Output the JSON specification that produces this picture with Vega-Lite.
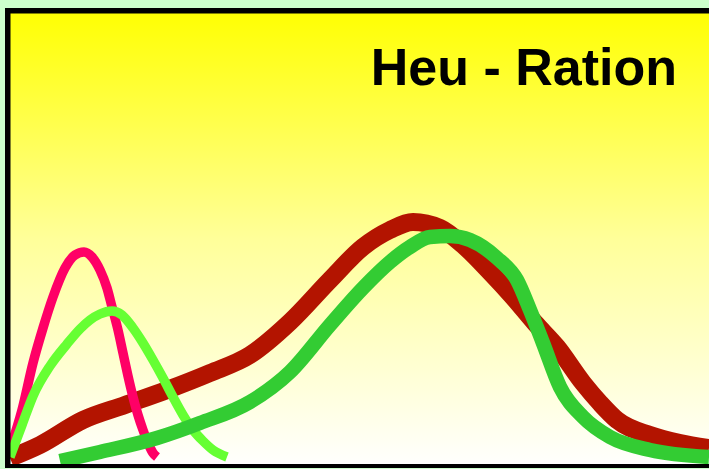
{
  "$schema": "https://vega.github.io/schema/vega-lite/v6.json",
  "width": 704,
  "height": 460,
  "autosize": {"type": "none"},
  "padding": {"left": 5, "top": 8, "right": 0, "bottom": 1},
  "background": "#CCFFCC",
  "config": {"view": {"stroke": null}},
  "datasets": {
    "curves": [
      {"s": "red", "x": 5, "y": 10}, {"s": "red", "x": 35, "y": 23}, {"s": "red", "x": 78, "y": 48}, {"s": "red", "x": 120, "y": 63},
      {"s": "red", "x": 162, "y": 78}, {"s": "red", "x": 205, "y": 95}, {"s": "red", "x": 245, "y": 113}, {"s": "red", "x": 285, "y": 146},
      {"s": "red", "x": 325, "y": 188}, {"s": "red", "x": 358, "y": 221}, {"s": "red", "x": 385, "y": 238}, {"s": "red", "x": 408, "y": 246},
      {"s": "red", "x": 435, "y": 240}, {"s": "red", "x": 458, "y": 223}, {"s": "red", "x": 485, "y": 196}, {"s": "red", "x": 508, "y": 171},
      {"s": "red", "x": 530, "y": 145}, {"s": "red", "x": 552, "y": 121}, {"s": "red", "x": 578, "y": 85}, {"s": "red", "x": 595, "y": 65},
      {"s": "red", "x": 612, "y": 48}, {"s": "red", "x": 645, "y": 33}, {"s": "red", "x": 675, "y": 25}, {"s": "red", "x": 704, "y": 20},

      {"s": "pink", "x": 3, "y": 13}, {"s": "pink", "x": 17, "y": 58}, {"s": "pink", "x": 28, "y": 105}, {"s": "pink", "x": 38, "y": 140},
      {"s": "pink", "x": 48, "y": 171}, {"s": "pink", "x": 60, "y": 200}, {"s": "pink", "x": 70, "y": 213}, {"s": "pink", "x": 79, "y": 216},
      {"s": "pink", "x": 87, "y": 211}, {"s": "pink", "x": 95, "y": 198}, {"s": "pink", "x": 102, "y": 180}, {"s": "pink", "x": 107, "y": 161},
      {"s": "pink", "x": 113, "y": 138}, {"s": "pink", "x": 118, "y": 115}, {"s": "pink", "x": 123, "y": 92}, {"s": "pink", "x": 128, "y": 71},
      {"s": "pink", "x": 133, "y": 53}, {"s": "pink", "x": 138, "y": 38}, {"s": "pink", "x": 143, "y": 25}, {"s": "pink", "x": 148, "y": 15},
      {"s": "pink", "x": 152, "y": 11},

      {"s": "lime", "x": 5, "y": 11}, {"s": "lime", "x": 17, "y": 43}, {"s": "lime", "x": 28, "y": 72}, {"s": "lime", "x": 45, "y": 102},
      {"s": "lime", "x": 62, "y": 124}, {"s": "lime", "x": 75, "y": 139}, {"s": "lime", "x": 85, "y": 148}, {"s": "lime", "x": 95, "y": 154},
      {"s": "lime", "x": 107, "y": 157}, {"s": "lime", "x": 117, "y": 153}, {"s": "lime", "x": 128, "y": 140}, {"s": "lime", "x": 138, "y": 125},
      {"s": "lime", "x": 148, "y": 108}, {"s": "lime", "x": 158, "y": 90}, {"s": "lime", "x": 168, "y": 71}, {"s": "lime", "x": 178, "y": 53},
      {"s": "lime", "x": 188, "y": 38}, {"s": "lime", "x": 198, "y": 27}, {"s": "lime", "x": 208, "y": 18}, {"s": "lime", "x": 222, "y": 11},

      {"s": "green", "x": 55, "y": 7}, {"s": "green", "x": 95, "y": 16}, {"s": "green", "x": 152, "y": 30}, {"s": "green", "x": 195, "y": 45},
      {"s": "green", "x": 245, "y": 66}, {"s": "green", "x": 285, "y": 96}, {"s": "green", "x": 325, "y": 143}, {"s": "green", "x": 358, "y": 180},
      {"s": "green", "x": 385, "y": 206}, {"s": "green", "x": 405, "y": 221}, {"s": "green", "x": 425, "y": 231}, {"s": "green", "x": 445, "y": 232},
      {"s": "green", "x": 465, "y": 228}, {"s": "green", "x": 492, "y": 210}, {"s": "green", "x": 512, "y": 188}, {"s": "green", "x": 525, "y": 158},
      {"s": "green", "x": 538, "y": 125}, {"s": "green", "x": 555, "y": 81}, {"s": "green", "x": 578, "y": 51}, {"s": "green", "x": 605, "y": 31},
      {"s": "green", "x": 645, "y": 18}, {"s": "green", "x": 704, "y": 11}
    ],
    "title": [{"label": "Heu - Ration", "x": 672, "y": 383}]
  },
  "layer": [
    {
      "data": {"values": [{"x0": 0, "x1": 704, "y0": 0, "y1": 460}]},
      "mark": {"type": "rect", "fill": {"gradient": "linear", "x1": 0, "y1": 0, "x2": 0, "y2": 1, "stops": [{"offset": 0, "color": "#FFFF00"}, {"offset": 0.5, "color": "#FFFF99"}, {"offset": 1, "color": "#FFFFFF"}]}},
      "encoding": {
        "x": {"field": "x0", "type": "quantitative", "scale": {"domain": [0, 704], "nice": false, "zero": false}, "axis": null},
        "x2": {"field": "x1"},
        "y": {"field": "y0", "type": "quantitative", "scale": {"domain": [0, 460], "nice": false, "zero": false}, "axis": null},
        "y2": {"field": "y1"}
      }
    },
    {
      "data": {"name": "curves"},
      "transform": [{"filter": "datum.s === 'red'"}],
      "mark": {"type": "line", "color": "#B31400", "strokeWidth": 18, "interpolate": "monotone", "strokeCap": "butt", "strokeJoin": "round", "clip": true},
      "encoding": {
        "x": {"field": "x", "type": "quantitative", "scale": {"domain": [0, 704], "nice": false, "zero": false}, "axis": null},
        "y": {"field": "y", "type": "quantitative", "scale": {"domain": [0, 460], "nice": false, "zero": false}, "axis": null}
      }
    },
    {
      "data": {"name": "curves"},
      "transform": [{"filter": "datum.s === 'pink'"}],
      "mark": {"type": "line", "color": "#FF0066", "strokeWidth": 9.5, "interpolate": "monotone", "strokeCap": "butt", "strokeJoin": "round", "clip": true},
      "encoding": {
        "x": {"field": "x", "type": "quantitative", "scale": {"domain": [0, 704], "nice": false, "zero": false}, "axis": null},
        "y": {"field": "y", "type": "quantitative", "scale": {"domain": [0, 460], "nice": false, "zero": false}, "axis": null}
      }
    },
    {
      "data": {"name": "curves"},
      "transform": [{"filter": "datum.s === 'lime'"}],
      "mark": {"type": "line", "color": "#66FF33", "strokeWidth": 9.5, "interpolate": "monotone", "strokeCap": "butt", "strokeJoin": "round", "clip": true},
      "encoding": {
        "x": {"field": "x", "type": "quantitative", "scale": {"domain": [0, 704], "nice": false, "zero": false}, "axis": null},
        "y": {"field": "y", "type": "quantitative", "scale": {"domain": [0, 460], "nice": false, "zero": false}, "axis": null}
      }
    },
    {
      "data": {"name": "curves"},
      "transform": [{"filter": "datum.s === 'green'"}],
      "mark": {"type": "line", "color": "#33CC33", "strokeWidth": 14.5, "interpolate": "monotone", "strokeCap": "butt", "strokeJoin": "round", "clip": true},
      "encoding": {
        "x": {"field": "x", "type": "quantitative", "scale": {"domain": [0, 704], "nice": false, "zero": false}, "axis": null},
        "y": {"field": "y", "type": "quantitative", "scale": {"domain": [0, 460], "nice": false, "zero": false}, "axis": null}
      }
    },
    {
      "data": {"values": [{"x0": 0, "x1": 730, "y0": -1.5, "y1": 460}]},
      "mark": {"type": "rect", "fill": null, "fillOpacity": 0, "stroke": "#000000", "strokeWidth": 11, "clip": true},
      "encoding": {
        "x": {"field": "x0", "type": "quantitative", "scale": {"domain": [0, 704], "nice": false, "zero": false}, "axis": null},
        "x2": {"field": "x1"},
        "y": {"field": "y0", "type": "quantitative", "scale": {"domain": [0, 460], "nice": false, "zero": false}, "axis": null},
        "y2": {"field": "y1"}
      }
    },
    {
      "data": {"name": "title"},
      "mark": {"type": "text", "font": "Liberation Sans", "fontWeight": "bold", "fontSize": 52, "align": "right", "baseline": "alphabetic", "color": "#000000"},
      "encoding": {
        "x": {"field": "x", "type": "quantitative", "scale": {"domain": [0, 704], "nice": false, "zero": false}, "axis": null},
        "y": {"field": "y", "type": "quantitative", "scale": {"domain": [0, 460], "nice": false, "zero": false}, "axis": null},
        "text": {"field": "label"}
      }
    }
  ]
}
